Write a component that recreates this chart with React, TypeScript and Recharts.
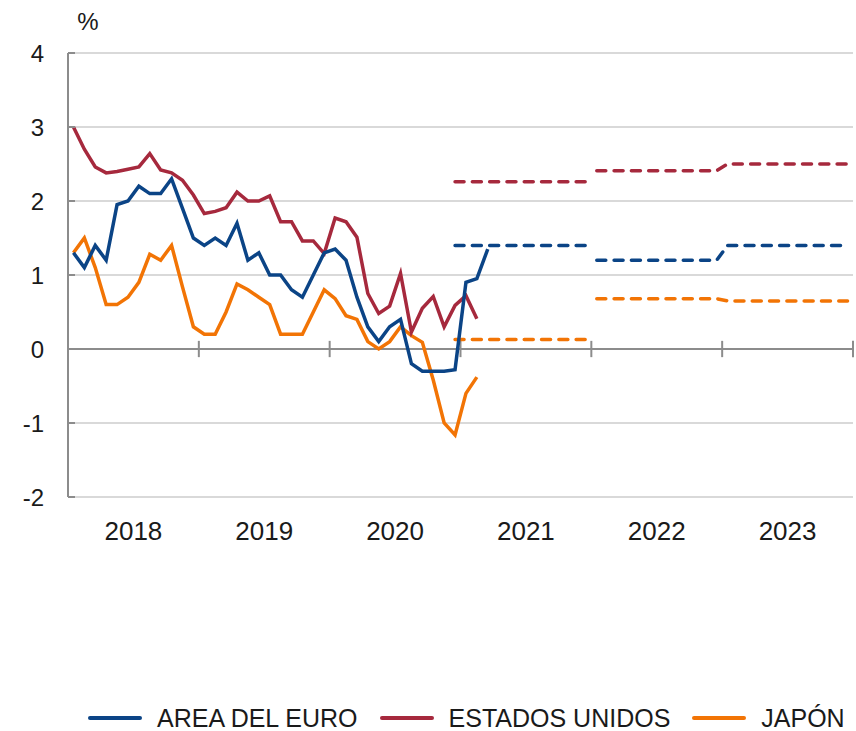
import { LineChart, Line, XAxis, YAxis, CartesianGrid, ReferenceLine, Legend } from 'recharts'

// Inflación interanual, mensual desde ene-2018; previsiones anuales 2021-2023
const YEARS = ['2018', '2019', '2020', '2021', '2022', '2023']
const Y_TICKS = [-2, -1, 0, 1, 2, 3, 4]

const EURO = [
  1.3, 1.1, 1.4, 1.2, 1.95, 2.0, 2.2, 2.1, 2.1, 2.3, 1.9, 1.5,
  1.4, 1.5, 1.4, 1.7, 1.2, 1.3, 1.0, 1.0, 0.8, 0.7, 1.0, 1.3,
  1.35, 1.2, 0.7, 0.3, 0.1, 0.3, 0.4, -0.2, -0.3, -0.3, -0.3, -0.28,
  0.9, 0.95, 1.35,
]
const USA = [
  3.0, 2.7, 2.46, 2.38, 2.4, 2.43, 2.46, 2.64, 2.42, 2.38, 2.28, 2.08,
  1.83, 1.86, 1.91, 2.12, 2.0, 2.0, 2.07, 1.72, 1.72, 1.46, 1.46, 1.29,
  1.77, 1.72, 1.51, 0.75, 0.48, 0.58, 1.02, 0.23, 0.55, 0.71, 0.3, 0.59,
  0.72, 0.41,
]
const JAPAN = [
  1.3, 1.5, 1.1, 0.6, 0.6, 0.7, 0.9, 1.28, 1.2, 1.4, 0.84, 0.3,
  0.2, 0.2, 0.5, 0.88, 0.8, 0.7, 0.6, 0.2, 0.2, 0.2, 0.5, 0.8,
  0.68, 0.45, 0.4, 0.1, 0.0, 0.1, 0.3, 0.18, 0.09, -0.42, -1.0, -1.16,
  -0.6, -0.38,
]

// previsiones 2021, 2022, 2023
const EURO_FCST = [1.4, 1.2, 1.4]
const USA_FCST = [2.26, 2.41, 2.5]
const JAPAN_FCST = [0.13, 0.68, 0.65]

const BLUE = '#0b4486'
const RED = '#a6293d'
const ORANGE = '#f27405'
const FONT = '"Liberation Sans", Arial, Helvetica, sans-serif'

const FIRST_FCST_MONTH = 35 // dic-2020
const data = Array.from({ length: YEARS.length * 12 }, (_, i) => {
  const yr = Math.floor(i / 12) - 3 // 0 = 2021
  const seg1 = i >= FIRST_FCST_MONTH && i < 48
  const seg2 = i >= 48
  return {
    t: i + 0.5,
    euro: EURO[i] ?? null,
    usa: USA[i] ?? null,
    japan: JAPAN[i] ?? null,
    euroF1: seg1 ? EURO_FCST[0] : null,
    usaF1: seg1 ? USA_FCST[0] : null,
    japanF1: seg1 ? JAPAN_FCST[0] : null,
    euroF2: seg2 ? EURO_FCST[yr] : null,
    usaF2: seg2 ? USA_FCST[yr] : null,
    japanF2: seg2 ? JAPAN_FCST[yr] : null,
  }
})

const LEGEND = [
  { name: 'AREA DEL EURO', color: BLUE },
  { name: 'ESTADOS UNIDOS', color: RED },
  { name: 'JAPÓN', color: ORANGE },
]

function LegendRow() {
  return (
    <div style={{ display: 'flex', alignItems: 'center', height: 26, paddingLeft: 88, fontFamily: FONT, fontSize: 25, color: '#1a1a1a', whiteSpace: 'nowrap' }}>
      {LEGEND.map((l, i) => (
        <div key={l.name} style={{ display: 'flex', alignItems: 'center', flexShrink: 0, marginRight: i < LEGEND.length - 1 ? 22 : 0 }}>
          <span style={{ display: 'inline-block', width: 54, height: 4, borderRadius: 2, background: l.color, marginRight: 15 }} />
          <span>{l.name}</span>
        </div>
      ))}
    </div>
  )
}

const solid = { type: 'linear' as const, strokeWidth: 3.5, dot: false, isAnimationActive: false, connectNulls: false }
const dashed = { ...solid, strokeDasharray: '9 8.3', strokeLinecap: 'round' as const, legendType: 'none' as const }

export default function App() {
  return (
    <div style={{ position: 'absolute', left: 0, top: 0, width: 856, height: 731, background: '#fff' }}>
      <LineChart width={856} height={731} data={data} margin={{ top: 53, right: 3, bottom: 0, left: 0 }}>
        <CartesianGrid vertical={false} stroke="#d9d9d9" strokeWidth={2} />
        <XAxis
          dataKey="t"
          type="number"
          domain={[0, 72]}
          ticks={[6, 18, 30, 42, 54, 66]}
          tickFormatter={(v: number) => YEARS[Math.round((v - 6) / 12)]}
          axisLine={false}
          tickLine={false}
          tickSize={0}
          tickMargin={25}
          height={208}
          interval={0}
          tick={{ fontSize: 26, fill: '#1a1a1a', fontFamily: FONT }}
        />
        <YAxis
          domain={[-2, 4]}
          ticks={Y_TICKS}
          width={68}
          interval={0}
          axisLine={{ stroke: '#8c8c8c', strokeWidth: 2 }}
          tickLine={{ stroke: '#8c8c8c', strokeWidth: 2 }}
          tickSize={-7}
          tickMargin={31}
          tick={{ fontSize: 24, fill: '#1a1a1a', fontFamily: FONT }}
          label={{ value: '%', position: 'top', offset: 23, dx: 54, fontSize: 24, fill: '#1a1a1a', fontFamily: FONT }}
        />
        <ReferenceLine y={0} stroke="#8c8c8c" strokeWidth={2} />
        {[12, 24, 36, 48, 60, 72].map((b) => (
          <ReferenceLine
            key={b}
            segment={[{ x: b, y: -0.11 }, { x: b, y: 0.11 }]}
            stroke="#8c8c8c"
            strokeWidth={2}
            ifOverflow="visible"
          />
        ))}
        <Line dataKey="euroF1" stroke={BLUE} {...dashed} />
        <Line dataKey="euroF2" stroke={BLUE} {...dashed} />
        <Line dataKey="usaF1" stroke={RED} {...dashed} />
        <Line dataKey="usaF2" stroke={RED} {...dashed} />
        <Line dataKey="japanF1" stroke={ORANGE} {...dashed} />
        <Line dataKey="japanF2" stroke={ORANGE} {...dashed} />
        <Line dataKey="japan" name="JAPÓN" stroke={ORANGE} {...solid} />
        <Line dataKey="usa" name="ESTADOS UNIDOS" stroke={RED} {...solid} />
        <Line dataKey="euro" name="AREA DEL EURO" stroke={BLUE} {...solid} />
        <Legend verticalAlign="bottom" content={() => <LegendRow />} wrapperStyle={{ height: 26 }} />
      </LineChart>
    </div>
  )
}
